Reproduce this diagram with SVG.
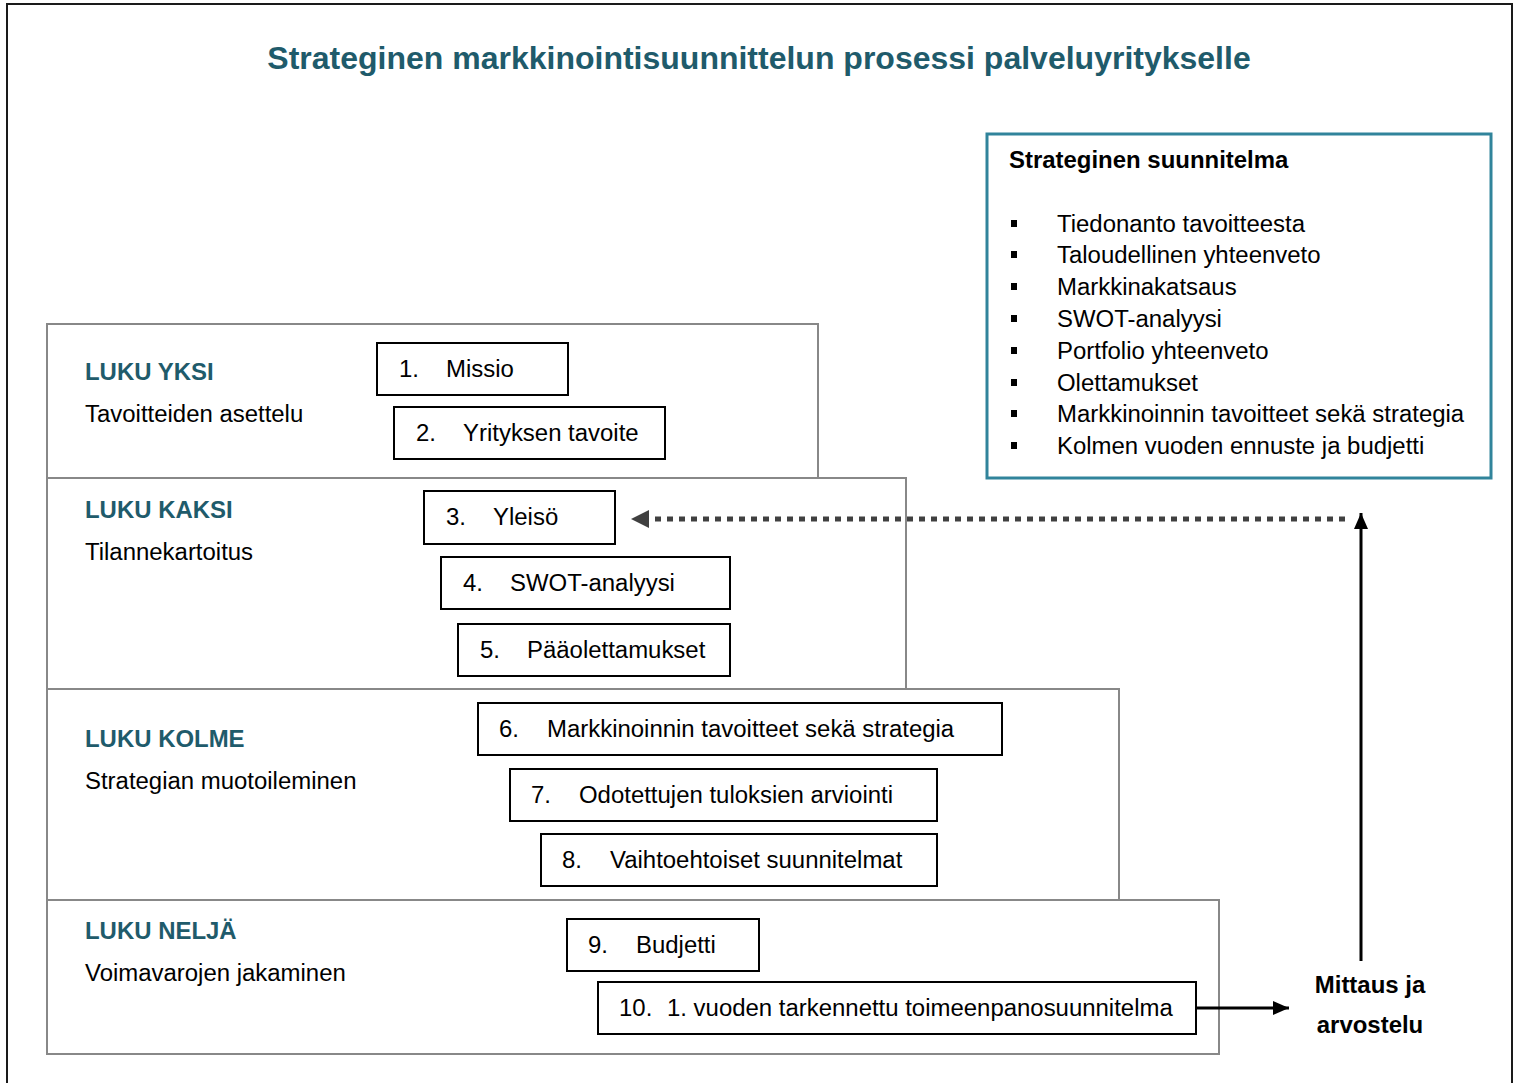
<svg xmlns="http://www.w3.org/2000/svg" width="1516" height="1083" viewBox="0 0 1516 1083">
<defs>
<style>
text{font-family:"Liberation Sans",Arial,sans-serif;font-size:23.95px;fill:#000}
.title{font-size:32px;font-weight:bold;fill:#1f5b6b}
.luku{font-weight:bold;fill:#1f5b6b}
.b{font-weight:bold}
.sec{fill:#fff;stroke:#888;stroke-width:2}
.node{fill:#fff;stroke:#000;stroke-width:2}
.bul{fill:#000}
</style>
<marker id="ahBlack" viewBox="0 0 16 14" refX="16" refY="7" markerWidth="16" markerHeight="14" markerUnits="userSpaceOnUse" orient="auto">
<path d="M0,0 L16,7 L0,14 Z" fill="#000"/>
</marker>
</defs>
<rect x="0" y="0" width="1516" height="1083" fill="#fff"/>
<rect x="7" y="4" width="1505" height="1090" fill="none" stroke="#1a1a1a" stroke-width="2"/>
<text class="title" x="759" y="69" text-anchor="middle">Strateginen markkinointisuunnittelun prosessi palveluyritykselle</text>

<g id="plan">
<rect x="987" y="134" width="504" height="344" fill="#fff" stroke="#31849b" stroke-width="3"/>
<text class="b" x="1009" y="168">Strateginen suunnitelma</text>
<rect class="bul" x="1011" y="220" width="6" height="7"/>
<rect class="bul" x="1011" y="251" width="6" height="7"/>
<rect class="bul" x="1011" y="283" width="6" height="7"/>
<rect class="bul" x="1011" y="315" width="6" height="7"/>
<rect class="bul" x="1011" y="347" width="6" height="7"/>
<rect class="bul" x="1011" y="379" width="6" height="7"/>
<rect class="bul" x="1011" y="410" width="6" height="7"/>
<rect class="bul" x="1011" y="442" width="6" height="7"/>
<text x="1057" y="232">Tiedonanto tavoitteesta</text>
<text x="1057" y="263">Taloudellinen yhteenveto</text>
<text x="1057" y="295">Markkinakatsaus</text>
<text x="1057" y="327">SWOT-analyysi</text>
<text x="1057" y="359">Portfolio yhteenveto</text>
<text x="1057" y="391">Olettamukset</text>
<text x="1057" y="422">Markkinoinnin tavoitteet sekä strategia</text>
<text x="1057" y="454">Kolmen vuoden ennuste ja budjetti</text>
</g>

<g id="luku-neljä">
<rect class="sec" x="47" y="900" width="1172" height="154"/>
<text class="luku" x="85" y="939">LUKU NELJÄ</text>
<text x="85" y="981">Voimavarojen jakaminen</text>
</g>
<g id="luku-kolme">
<rect class="sec" x="47" y="689" width="1072" height="211"/>
<text class="luku" x="85" y="747">LUKU KOLME</text>
<text x="85" y="789">Strategian muotoileminen</text>
</g>
<g id="luku-kaksi">
<rect class="sec" x="47" y="478" width="859" height="211"/>
<text class="luku" x="85" y="518">LUKU KAKSI</text>
<text x="85" y="560">Tilannekartoitus</text>
</g>
<g id="luku-yksi">
<rect class="sec" x="47" y="324" width="771" height="154"/>
<text class="luku" x="85" y="380">LUKU YKSI</text>
<text x="85" y="422">Tavoitteiden asettelu</text>
</g>

<g id="n1"><rect class="node" x="377" y="343" width="191" height="52"/><text x="399" y="377">1.</text><text x="446" y="377">Missio</text></g>
<g id="n2"><rect class="node" x="394" y="407" width="271" height="52"/><text x="416" y="441">2.</text><text x="463" y="441">Yrityksen tavoite</text></g>
<g id="n3"><rect class="node" x="424" y="491" width="191" height="53"/><text x="446" y="525">3.</text><text x="493" y="525">Yleisö</text></g>
<g id="n4"><rect class="node" x="441" y="557" width="289" height="52"/><text x="463" y="591">4.</text><text x="510" y="591">SWOT-analyysi</text></g>
<g id="n5"><rect class="node" x="458" y="624" width="272" height="52"/><text x="480" y="658">5.</text><text x="527" y="658">Pääolettamukset</text></g>
<g id="n6"><rect class="node" x="478" y="703" width="524" height="52"/><text x="499" y="737">6.</text><text x="547" y="737">Markkinoinnin tavoitteet sekä strategia</text></g>
<g id="n7"><rect class="node" x="510" y="769" width="427" height="52"/><text x="531" y="803">7.</text><text x="579" y="803">Odotettujen tuloksien arviointi</text></g>
<g id="n8"><rect class="node" x="541" y="834" width="396" height="52"/><text x="562" y="868">8.</text><text x="610" y="868">Vaihtoehtoiset suunnitelmat</text></g>
<g id="n9"><rect class="node" x="567" y="919" width="192" height="52"/><text x="588" y="953">9.</text><text x="636" y="953">Budjetti</text></g>
<g id="n10"><rect class="node" x="598" y="982" width="598" height="52"/><text x="619" y="1016">10.</text><text x="667" y="1016">1. vuoden tarkennettu toimeenpanosuunnitelma</text></g>

<g id="mittaus">
<text class="b" x="1370" y="993" text-anchor="middle">Mittaus ja</text>
<text class="b" x="1370" y="1033" text-anchor="middle">arvostelu</text>
</g>

<g id="connectors">
<line x1="1345" y1="519" x2="652" y2="519" stroke="#404040" stroke-width="5" stroke-dasharray="6,6"/>
<path d="M631,519 L649,510 L649,528 Z" fill="#404040"/>
<line x1="1361" y1="961" x2="1361" y2="513" stroke="#000" stroke-width="3" marker-end="url(#ahBlack)"/>
<line x1="1196" y1="1008" x2="1289" y2="1008" stroke="#000" stroke-width="3" marker-end="url(#ahBlack)"/>
</g>
</svg>
